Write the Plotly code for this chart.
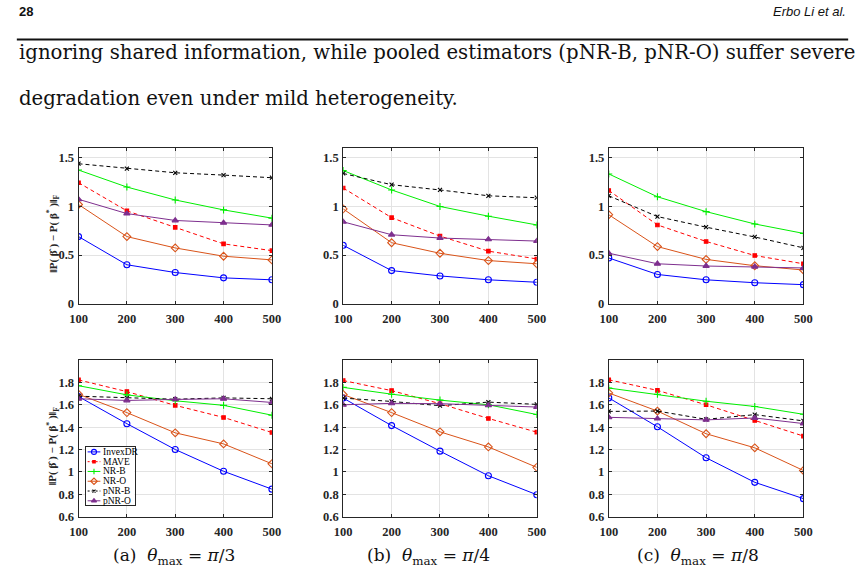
import plotly.graph_objects as go

W, H = 865, 582

sample_sizes = [100, 200, 300, 400, 500]
methods = ["InvexDR", "MAVE", "NR-B", "NR-O", "pNR-B", "pNR-O"]
panel_captions = ["(a)  <i>θ</i><sub>max</sub> = <i>π</i>/3", "(b)  <i>θ</i><sub>max</sub> = <i>π</i>/4",
                  "(c)  <i>θ</i><sub>max</sub> = <i>π</i>/8"]
y_ticks_top = [0, 0.5, 1, 1.5]
y_ticks_bottom = [0.6, 0.8, 1, 1.2, 1.4, 1.6, 1.8]

# top row, panels (a), (b), (c)
invexdr_top = [[0.69, 0.40, 0.32, 0.265, 0.245], [0.60, 0.34, 0.285, 0.245, 0.22], [0.47, 0.30, 0.245, 0.215, 0.195]]
mave_top = [[1.245, 0.955, 0.785, 0.615, 0.545], [1.19, 0.885, 0.695, 0.54, 0.46], [1.165, 0.81, 0.64, 0.495, 0.41]]
nrb_top = [[1.375, 1.20, 1.067, 0.965, 0.88], [1.37, 1.17, 1.0, 0.90, 0.81], [1.335, 1.10, 0.947, 0.82, 0.723]]
nro_top = [[1.02, 0.69, 0.573, 0.488, 0.45], [0.975, 0.627, 0.518, 0.443, 0.41], [0.915, 0.587, 0.455, 0.39, 0.346]]
pnrb_top = [[1.44, 1.39, 1.347, 1.323, 1.296], [1.34, 1.224, 1.17, 1.11, 1.09], [1.11, 0.896, 0.787, 0.686, 0.574]]
pnro_top = [[1.074, 0.927, 0.856, 0.832, 0.81], [0.842, 0.709, 0.675, 0.661, 0.644], [0.519, 0.41, 0.387, 0.38, 0.367]]

# bottom row, panels (a), (b), (c)
invexdr_bot = [[1.674, 1.431, 1.20, 1.005, 0.845], [1.66, 1.414, 1.185, 0.965, 0.795], [1.662, 1.403, 1.126, 0.906, 0.76]]
mave_bot = [[1.823, 1.718, 1.595, 1.487, 1.352], [1.817, 1.727, 1.61, 1.478, 1.355], [1.824, 1.729, 1.60, 1.459, 1.32]]
nrb_bot = [[1.771, 1.689, 1.636, 1.595, 1.507], [1.756, 1.695, 1.642, 1.60, 1.513], [1.75, 1.694, 1.632, 1.585, 1.515]]
nro_bot = [[1.694, 1.53, 1.349, 1.25, 1.072], [1.692, 1.53, 1.358, 1.223, 1.04], [1.706, 1.544, 1.341, 1.215, 1.012]]
pnrb_bot = [[1.677, 1.662, 1.65, 1.662, 1.654], [1.66, 1.63, 1.592, 1.624, 1.604], [1.541, 1.544, 1.47, 1.512, 1.456]]
pnro_bot = [[1.654, 1.639, 1.648, 1.654, 1.621], [1.60, 1.613, 1.61, 1.595, 1.58], [1.488, 1.476, 1.465, 1.482, 1.432]]

colors = ["#0000FF", "#FF0000", "#00EE00", "#D95319", "#000000", "#7E2F8E"]
dashes = ["solid", "4px,3px", "solid", "solid", "4px,3px", "solid"]
symbols = ["circle-open", "square", "cross-thin-open", "diamond-open", "x-thin-open", "triangle-up"]
msizes = [6, 3.5, 5, 6, 4, 5.5]

top_series = [invexdr_top, mave_top, nrb_top, nro_top, pnrb_top, pnro_top]
bot_series = [invexdr_bot, mave_bot, nrb_bot, nro_bot, pnrb_bot, pnro_bot]

# axes pixel boxes
x_px = [(71, 268.5), (341.3, 539), (612.5, 811.3)]
top_px = (150, 307.3)
bot_px = (364.5, 522.8)

def px_dom_x(a, b):
    return [a / W, b / W]

def px_dom_y(t, b):
    return [1 - b / H, 1 - t / H]

fig = go.Figure()

def add_panel(k, series, dom_x, dom_y, yrange, yticks):
    xa = "x" if k == 1 else f"x{k}"
    ya = "y" if k == 1 else f"y{k}"
    for m in range(len(methods)):
        fig.add_trace(go.Scatter(
            x=sample_sizes, y=series[m], xaxis=xa, yaxis=ya, mode="lines+markers",
            name=methods[m], showlegend=False,
            line=dict(color=colors[m], width=1, dash=dashes[m]),
            marker=dict(symbol=symbols[m], size=msizes[m], color=colors[m],
                        line=dict(color=colors[m], width=1.1))))
    common = dict(showline=True, mirror="ticks", linecolor="#262626", linewidth=1,
                  ticks="inside", ticklen=3, tickcolor="#262626",
                  showgrid=True, gridcolor="#e3e3e3", gridwidth=1, zeroline=False,
                  tickfont=dict(family="Liberation Serif", size=12.5, color="#262626", weight="bold"))
    fig.update_layout({
        ("xaxis" if k == 1 else f"xaxis{k}"): dict(domain=dom_x, range=[100, 500], tickvals=sample_sizes,
                                                 anchor=ya, ticklabelstandoff=3, **common),
        ("yaxis" if k == 1 else f"yaxis{k}"): dict(domain=dom_y, range=yrange, tickvals=yticks,
                                                 anchor=xa, ticklabelstandoff=1, **common),
    })

for i in range(3):
    add_panel(i + 1, [s[i] for s in top_series], px_dom_x(*x_px[i]), px_dom_y(*top_px), [0, 1.6], y_ticks_top)
    add_panel(i + 4, [s[i] for s in bot_series], px_dom_x(*x_px[i]), px_dom_y(*bot_px), [0.6, 2.0], y_ticks_bottom)

# legend drawn in its own small axes (inside bottom-left panel)
leg_box = (78.3, 452.7, 128.3, 510.7)
leg_w = leg_box[2] - leg_box[0]
leg_h = leg_box[3] - leg_box[1]
leg_rows = [4.7 + 9.9 * i for i in range(len(methods))]
for m in range(len(methods)):
    fig.add_trace(go.Scatter(
        x=[2, 8.5, 15], y=[leg_rows[m]] * 3, xaxis="x7", yaxis="y7", mode="lines",
        showlegend=False, hoverinfo="skip",
        line=dict(color=colors[m], width=1, dash="2px,2px" if dashes[m] != "solid" else "solid")))
    fig.add_trace(go.Scatter(
        x=[8.5], y=[leg_rows[m]], xaxis="x7", yaxis="y7", mode="markers", showlegend=False,
        hoverinfo="skip",
        marker=dict(symbol=symbols[m], size=msizes[m] - 1, color=colors[m],
                    line=dict(color=colors[m], width=1.1))))
    fig.add_annotation(x=15.5, y=leg_rows[m], xref="x7", yref="y7", text=methods[m], showarrow=False,
                       xanchor="left", yanchor="middle",
                       font=dict(family="Liberation Serif", size=9.5, color="#000"))
fig.update_layout(
    xaxis7=dict(domain=px_dom_x(leg_box[0], leg_box[2]), range=[0, leg_w], visible=True, showgrid=False,
                zeroline=False, showticklabels=False, ticks="", showline=True, mirror=True,
                linecolor="#262626", linewidth=1, anchor="y7", fixedrange=True),
    yaxis7=dict(domain=px_dom_y(leg_box[1], leg_box[3]), range=[leg_h, 0], showgrid=False,
                zeroline=False, showticklabels=False, ticks="", showline=True, mirror=True,
                linecolor="#262626", linewidth=1, anchor="x7", fixedrange=True),
)

# y-axis titles
ytitle = "‖P( β̂ ) − P( β<sup>*</sup> )‖<sub>F</sub>"
for (t, b) in (top_px, bot_px):
    fig.add_annotation(x=45 / W, y=1 - ((t + b) / 2 + 8) / H, xref="paper", yref="paper", text="<b>" + ytitle + "</b>",
                       textangle=-90, showarrow=False, xanchor="center", yanchor="middle",
                       font=dict(family="Liberation Serif", size=11, color="#262626"))

# captions
cap_x = [168, 428, 704]
for i in range(3):
    fig.add_annotation(x=cap_x[i] / W, y=1 - 563 / H, xref="paper", yref="paper", text=panel_captions[i],
                       showarrow=False, xanchor="center", yanchor="middle",
                       font=dict(family="DejaVu Serif", size=17, color="#111"))

# page header and body text
fig.add_annotation(x=8 / W, y=1 - 12 / H, xref="paper", yref="paper", text="<b>28</b>", showarrow=False,
                   xanchor="left", yanchor="middle", font=dict(family="Liberation Sans", size=13, color="#111"))
fig.add_annotation(x=857 / W, y=1 - 12 / H, xref="paper", yref="paper", text="<i>Erbo Li et al.</i>",
                   showarrow=False, xanchor="right", yanchor="middle",
                   font=dict(family="Liberation Sans", size=13, color="#111"))
fig.add_shape(type="line", xref="paper", yref="paper", x0=8 / W, x1=857 / W, y0=1 - 40 / H, y1=1 - 40 / H,
              line=dict(color="#111", width=2))
fig.add_annotation(x=8 / W, y=1 - 53 / H, xref="paper", yref="paper",
                   text="ignoring shared information, while pooled estimators (pNR-B, pNR-O) suffer severe",
                   showarrow=False, xanchor="left", yanchor="middle",
                   font=dict(family="DejaVu Serif", size=19.7, color="#111"))
fig.add_annotation(x=8 / W, y=1 - 100 / H, xref="paper", yref="paper",
                   text="degradation even under mild heterogeneity.",
                   showarrow=False, xanchor="left", yanchor="middle",
                   font=dict(family="DejaVu Serif", size=19.7, color="#111"))

fig.update_layout(width=W, height=H, margin=dict(l=0, r=0, t=0, b=0), paper_bgcolor="white",
                  plot_bgcolor="white", showlegend=False)
fig.write_html("out.html")
